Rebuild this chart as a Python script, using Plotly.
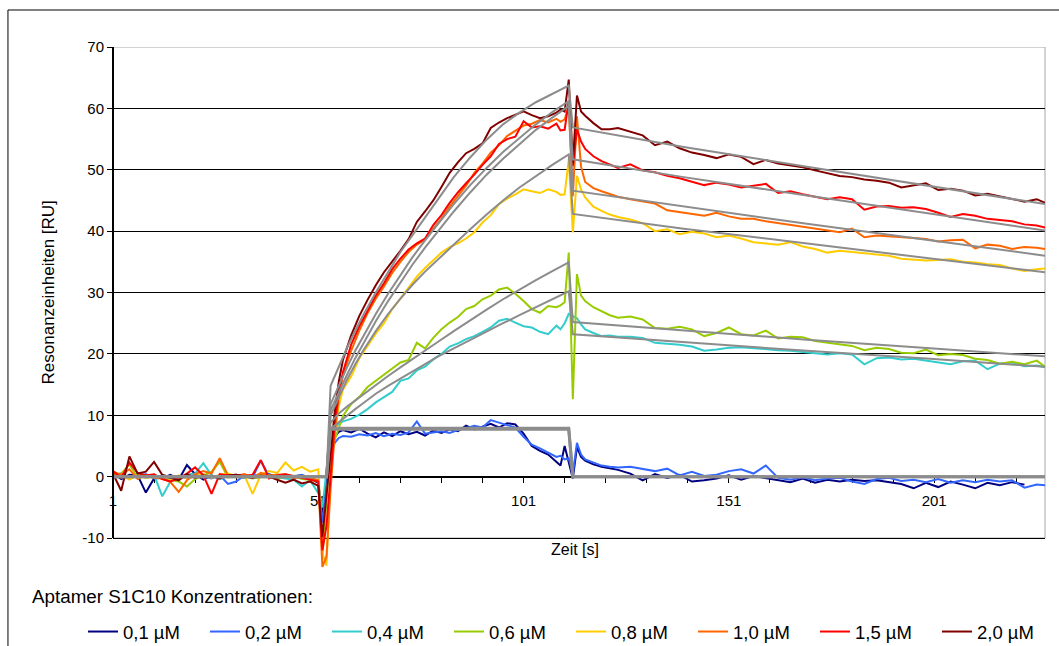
import plotly.graph_objects as go

# ---------------- time grid (s) shared by the measured curves ----------------
T = [1, 3, 5, 7, 9, 11, 13, 15, 17, 19, 21, 23, 25, 27, 29, 31, 33, 35, 37, 39, 41, 43, 45, 47, 49, 51,
     52, 53, 54, 55, 56, 57,
     59, 61, 63, 65, 67, 69, 71, 73, 75, 77, 79, 81, 83, 85, 87, 89, 91, 93, 95, 97, 99, 101, 103, 105, 107, 109,
     110, 111, 112, 113, 114, 115, 116,
     118, 120, 122, 124,
     127, 130, 133, 136, 139, 142, 145, 148, 151, 154, 157, 160, 163, 166, 169, 172, 175, 178, 181, 184, 187,
     190, 193, 196, 199, 202, 205, 208, 211, 214, 217, 220, 223, 226, 228]

C01 = [0.6, -0.4, 0.3, 0.2, -2.6, -0.3, -0.2, 0.3, -0.5, 1.9, 0.4, -0.5, 0.2, -0.3, 0.1, 0.2, -0.2, 0.2, 0.1, 0.4, 0.0, -0.2, 0.1, 0.2, -0.3, -1.0,
       -6.5, -1.0, 4.5, 6.5, 7.3, 7.6,
       7.2, 7.8, 7.0, 6.4, 7.2, 6.6, 7.4, 6.9, 7.3, 6.7, 7.5, 7.1, 7.7, 7.4, 8.3, 7.7, 8.2, 8.6, 8.0, 8.7, 8.5, 7.0, 5.0, 4.2, 3.6, 2.3,
       1.8, 5.0, 2.2, -0.3, 4.8, 3.2, 2.6,
       2.0, 1.6, 1.3, 1.1,
       0.5, -0.6, 0.4, -0.2, 0.3, -0.8, -0.6, -0.3, 0.2, -0.5, 0.1, -0.2, -0.5, -0.9, -0.3, -1.0, -0.5, -0.8, -0.5, -0.7,
       -0.6, -0.9, -1.2, -1.9, -1.0, -1.7, -0.8, -1.3, -1.9, -1.0, -1.4, -0.9, -1.3, None, None]

C02 = [0.3, 0.5, -0.2, 0.1, 0.4, -0.3, 0.2, -0.4, 0.1, -0.2, 0.3, 0.1, -0.3, 0.2, -1.2, -0.8, 0.2, -0.1, 2.6, 0.1, -0.2, 0.2, 0.0, 0.3, -0.2, -0.8,
       -7.5, -2.0, 3.5, 5.5, 6.3, 6.6,
       6.5, 6.9, 6.7, 7.1, 6.6, 7.0, 6.8, 7.2, 9.0, 7.0, 7.2, 7.4, 7.1, 7.6, 7.9, 8.3, 8.0, 9.2, 8.8, 8.4, 8.0, 6.5, 5.2, 4.6, 3.9, 3.2,
       3.4, 2.8, 3.0, 0.5, 5.5, 3.6, 2.8,
       2.3, 1.8, 1.6, 1.5,
       1.6, 1.2, 0.9, 1.3, 0.2, 0.8, 0.1, 0.3, 0.9, 1.2, 0.5, 1.8, -0.2, -0.5, -0.1, -0.6, -0.3, -0.2, -0.8, -1.2,
       -0.4, -0.2, -0.7, -0.5, -0.9, -0.4, -1.0, -0.6, -0.9, -0.5, -0.8, -0.6, -1.8, -1.3, -1.4]

C04 = [0.2, 0.4, -0.3, 0.5, -0.2, 0.3, -3.2, -0.8, -0.2, 0.3, 0.5, 2.2, 0.2, -0.4, 0.1, 0.3, -0.2, 0.1, 0.0, 0.2, -0.1, -0.3, -0.5, -1.6, -0.6, -2.7,
       -5.0, 1.0, 6.0, 8.0, 8.6, 9.0,
       9.4, 10.1, 11.0, 12.1, 12.9, 13.8, 15.6, 16.0, 17.3, 17.9, 19.1, 20.0, 21.2, 21.7, 22.4, 22.9, 23.6, 24.3, 25.4, 25.7, 25.1, 24.5, 24.3, 23.6, 23.2, 24.6,
       24.0, 25.0, 26.5, 26.2, 25.8, 24.8, 24.0,
       23.4, 22.9, 23.0, 22.8,
       22.8, 22.6, 21.8, 21.7, 21.5, 21.2, 20.5, 20.7, 21.0, 21.1, 20.9, 20.8, 20.6, 20.5, 20.3, 20.0, 19.9, 20.1, 19.9, 18.3,
       19.3, 19.4, 19.1, 19.2, 18.9, 18.6, 18.3, 18.8, 18.9, 17.5, 18.4, 18.6, 18.0, 18.1, 17.8]

C06 = [0.3, 0.5, 2.0, -0.2, 0.1, 0.3, -0.3, -0.5, -0.8, -1.6, -0.4, 0.2, 0.8, 2.4, -0.1, 0.2, 0.1, -0.3, 0.0, 0.2, -0.2, -0.1, 0.1, -0.4, -0.5, -0.8,
       -13.0, -4.0, 4.5, 6.0, 8.0, 9.9,
       11.8, 13.0, 14.6, 15.6, 16.5, 17.5, 18.6, 19.0, 21.8, 20.9, 22.6, 24.0, 25.1, 26.0, 27.3, 27.8, 28.9, 29.5, 30.5, 30.8, 29.8, 28.6, 27.3, 26.7, 27.8, 27.6,
       27.9, 28.4, 36.5, 12.6, 33.0, 29.5, 28.6,
       27.6, 26.9, 26.3, 25.9,
       26.1, 25.6, 24.2, 24.1, 24.4, 24.0, 22.9, 23.4, 24.3, 23.2, 23.0, 23.8, 22.5, 22.8, 22.7, 22.1, 21.8, 21.6, 21.3, 20.6,
       21.0, 20.8, 20.2, 20.1, 20.7, 19.8, 20.0, 19.8, 19.2, 19.0, 18.4, 18.7, 18.3, 18.9, 17.9]

C08 = [0.4, 0.2, -0.5, 0.3, -0.2, 0.1, -0.4, -0.6, 0.2, -0.3, 0.1, 0.4, -0.2, 0.3, 0.5, 0.1, 0.2, -2.8, 0.3, 0.9, 0.6, 2.3, 1.0, 1.6, 0.8, 1.2,
       -12.5, -14.5, 1.0, 7.0, 11.5, 14.2,
       16.3, 19.3, 21.3, 23.3, 25.0, 27.3, 29.0, 30.8, 32.6, 34.0, 35.3, 36.5, 37.4, 38.0, 38.8, 39.8, 41.4, 42.6, 44.4, 45.3, 46.0, 46.8, 46.5, 46.2, 46.8, 46.4,
       45.9, 46.0, 51.7, 39.8, 49.0, 46.8, 45.5,
       44.0, 43.3, 42.7, 42.3,
       41.9, 41.3, 40.0, 40.3, 39.5, 39.9, 39.6, 39.0, 39.3, 38.8, 38.2, 38.0, 37.8, 38.2, 37.5, 37.1, 36.5, 36.8, 36.6, 36.3,
       36.1, 36.0, 35.5, 35.3, 35.2, 35.3, 35.4, 35.0, 34.9, 34.6, 34.5, 33.9, 33.5, 33.8, 33.9]

C10 = [0.8, 0.3, 1.2, -0.4, 0.3, -0.2, -0.3, -0.9, -2.5, -0.6, 0.4, 0.9, 0.5, 3.0, 0.2, 0.1, 0.4, -0.2, 0.6, 0.2, 0.3, 0.4, -0.3, 0.0, -0.2, -0.6,
       -14.7, -13.0, -2.0, 7.0, 13.0, 16.5,
       20.5, 23.8, 26.6, 29.0, 31.0, 33.2, 35.0, 36.6, 37.8, 38.6, 40.4, 42.0, 44.0, 45.8, 47.4, 49.5, 51.0, 52.8, 54.0, 55.5, 56.3, 57.2, 57.5, 58.1, 57.7, 58.3,
       57.8, 58.2, 60.4, 45.7, 58.7, 50.5, 48.0,
       47.0, 46.5, 46.1, 45.6,
       45.2, 44.8, 44.5, 43.4, 43.1, 42.8, 42.5, 43.0, 42.4, 42.0, 42.0, 41.6, 41.3, 41.0, 40.8, 40.5, 40.2, 39.8, 40.4, 39.0,
       39.3, 39.2, 39.0, 38.9, 38.7, 38.3, 38.5, 38.6, 37.2, 37.8, 37.6, 37.1, 37.4, 37.3, 37.1]

C15 = [0.9, -0.2, 2.3, 0.6, 0.2, 0.4, -0.4, -0.8, -0.3, 0.5, 1.5, 0.2, -2.8, 0.4, 0.2, 0.3, 0.1, 0.3, 2.7, -0.3, 0.2, 0.4, 0.1, -0.2, -0.4, -0.8,
       -12.0, -8.0, 0.0, 8.8, 13.5, 17.0,
       21.5, 24.5, 27.0, 29.5, 31.5, 33.8, 35.5, 37.0, 38.0, 38.8, 41.0, 42.6, 44.6, 46.3, 47.8, 49.2, 50.8, 52.2, 54.2, 55.0, 55.4, 57.9, 56.9, 57.1, 56.7, 57.5,
       56.4, 56.5, 61.2, 50.6, 56.6, 54.6, 53.4,
       52.2, 51.4, 50.8, 50.3,
       50.9, 49.9, 49.6, 49.0, 48.6, 48.1, 47.5, 47.9, 47.6, 47.1, 47.4, 47.7, 46.2, 46.5, 46.0, 45.6, 45.2, 45.5, 45.2, 43.5,
       44.0, 44.1, 43.8, 43.9, 43.6, 43.0, 42.3, 42.8, 42.5, 42.0, 41.8, 41.6, 41.1, 40.9, 40.6]

C20 = [0.5, -2.3, 3.3, 0.5, 0.8, 2.4, 0.3, -0.2, -0.6, 0.4, -0.2, 0.2, 0.1, -0.3, 0.2, 0.3, 0.1, -0.2, 0.2, 0.0, -0.5, -1.0, -0.5, -1.1, -0.8, -1.5,
       -9.8, -3.0, 4.0, 10.5, 15.5, 19.0,
       23.0, 26.2, 28.8, 31.2, 33.3, 35.0, 36.8, 38.7, 41.5, 43.2, 45.0, 47.2, 49.5, 51.2, 52.7, 53.4, 54.3, 56.8, 57.7, 58.4, 59.0, 59.5, 58.9, 58.4, 58.7, 59.3,
       59.8, 59.5, 64.7, 51.0, 62.1, 59.5, 58.8,
       57.6, 56.6, 56.6, 56.8,
       56.2, 55.6, 54.0, 54.6, 53.5, 52.8, 52.4, 51.9, 52.5, 52.1, 50.9, 51.6, 51.0, 50.7, 50.4, 49.9, 49.5, 49.0, 48.8, 48.4,
       48.2, 47.9, 47.1, 47.4, 47.8, 46.7, 46.9, 46.6, 45.8, 46.1, 45.7, 45.2, 44.8, 45.2, 44.6]

# ---------------- fitted curves (grey) ----------------
TF = [1, 53, 54, 56, 58, 60, 62, 65, 68, 71, 74, 77, 80, 84, 88, 92, 96, 100, 104, 108, 112, 113, 140, 170, 200, 228]
F01 = [0, 0, 7.7, 7.7, 7.7, 7.7, 7.7, 7.7, 7.7, 7.7, 7.7, 7.7, 7.7, 7.7, 7.7, 7.7, 7.7, 7.7, 7.7, 7.7, 7.7, 0, 0, 0, 0, 0]
F02 = [0, 0, 7.9, 7.9, 7.9, 7.9, 7.9, 7.9, 7.9, 7.9, 7.9, 7.9, 7.9, 7.9, 7.9, 7.9, 7.9, 7.9, 7.9, 7.9, 7.9, 0, 0, 0, 0, 0]
F04 = [0, 0, 7.8, 8.9, 10.0, 11.0, 12.0, 13.5, 14.8, 16.0, 17.2, 18.4, 19.5, 20.9, 22.3, 23.7, 25.0, 26.3, 27.6, 28.9, 30.2, 23.2, 21.9, 20.5, 19.2, 17.9]
F06 = [0, 0, 8.8, 10.3, 11.4, 12.4, 13.4, 15.0, 16.4, 17.8, 19.2, 20.6, 21.9, 23.7, 25.5, 27.2, 28.9, 30.5, 32.0, 33.5, 34.9, 25.2, 23.8, 22.3, 20.9, 19.6]
F08 = [0, 0, 10.0, 13.0, 15.8, 18.3, 20.6, 23.7, 26.5, 29.0, 31.3, 33.4, 35.3, 37.8, 40.3, 42.7, 45.0, 47.1, 49.0, 50.8, 52.5, 42.8, 40.4, 38.0, 35.6, 33.3]
F10 = [0, 0, 10.8, 13.8, 16.6, 19.3, 21.8, 25.3, 28.6, 31.7, 34.6, 37.3, 39.9, 43.2, 46.3, 49.2, 51.8, 54.2, 56.5, 58.5, 60.4, 46.6, 44.0, 41.2, 38.5, 36.0]
F15 = [0, 0, 11.8, 14.9, 17.8, 20.5, 23.0, 26.5, 29.8, 32.9, 35.8, 38.5, 41.1, 44.4, 47.5, 50.3, 52.9, 55.2, 57.4, 59.4, 61.2, 51.7, 48.8, 45.8, 42.9, 40.1]
F20 = [0, 0, 14.8, 18.0, 21.0, 23.8, 26.4, 30.0, 33.4, 36.6, 39.4, 42.2, 44.9, 48.8, 52.0, 54.9, 57.4, 59.3, 61.0, 62.4, 63.7, 56.9, 53.7, 50.5, 47.4, 44.4]

NAMES = ["0,1 µM", "0,2 µM", "0,4 µM", "0,6 µM", "0,8 µM", "1,0 µM", "1,5 µM", "2,0 µM"]
COLORS = ["#000080", "#3366FF", "#33CCCC", "#99CC00", "#FFCC00", "#FF6600", "#FF0000", "#800000"]
SERIES = [C01, C02, C04, C06, C08, C10, C15, C20]
FITS = [F01, F02, F04, F06, F08, F10, F15, F20]
FIT_WIDTHS = [3, 3, 2, 2, 2, 2, 2, 2]

X_TICKS = [1, 11, 21, 31, 41, 51, 61, 71, 81, 91, 101, 111, 121, 131, 141, 151, 161, 171, 181, 191, 201, 211, 221]
X_LABELS = ["1", "", "", "", "", "51", "", "", "", "", "101", "", "", "", "", "151", "", "", "", "", "201", "", ""]
Y_TICKS = [-10, 0, 10, 20, 30, 40, 50, 60, 70]
Y_LABELS = ["-10", "0", "10", "20", "30", "40", "50", "60", "70"]

FONT = "Liberation Sans, Arial, sans-serif"
YMIN, YMAX = -15.05, 70

fig = go.Figure()
for name, col, vals in zip(NAMES, COLORS, SERIES):
    fig.add_trace(go.Scatter(x=T, y=vals, mode="lines", name=name,
                             line=dict(color=col, width=2), connectgaps=False))
for f, w in zip(FITS, FIT_WIDTHS):
    fig.add_trace(go.Scatter(x=TF, y=f, mode="lines", showlegend=False,
                             line=dict(color="#8C8C8C", width=w), hoverinfo="skip"))

grey = "#A6A6A6"
shapes = [
    # plot-area border (top, right, bottom)
    dict(type="line", xref="paper", yref="y", x0=0, x1=1, y0=70, y1=70, line=dict(color=grey, width=1), layer="between"),
    dict(type="line", xref="paper", yref="y", x0=1, x1=1, y0=-10, y1=70, line=dict(color=grey, width=1), layer="between"),
    dict(type="line", xref="paper", yref="y", x0=0, x1=1, y0=-10, y1=-10, line=dict(color=grey, width=1), layer="between"),
    # value axis line
    dict(type="line", xref="paper", yref="y", x0=0, x1=0, y0=-10, y1=70, line=dict(color="black", width=2), layer="above"),
    # outer chart frame
    dict(type="rect", xref="paper", yref="paper", x0=-0.1127, x1=1.2, y0=1.0709, y1=-0.4,
         line=dict(color="black", width=1), fillcolor="rgba(0,0,0,0)", layer="below"),
]

annotations = [
    dict(text="Resonanzeinheiten [RU]", xref="paper", yref="paper", x=-0.0687, y=0.5297,
         textangle=-90, showarrow=False, font=dict(size=17, family=FONT, color="black"),
         xanchor="center", yanchor="middle"),
    dict(text="Zeit [s]", xref="paper", yref="paper", x=0.4957, y=0.0364, showarrow=False,
         font=dict(size=16, family=FONT, color="black"), xanchor="center", yanchor="middle"),
    dict(text="Aptamer S1C10 Konzentrationen:", xref="paper", yref="paper", x=-0.0891, y=-0.0536,
         showarrow=False, font=dict(size=18.8, family=FONT, color="black"), xanchor="left", yanchor="middle"),
]

fig.update_layout(
    width=1059, height=646,
    margin=dict(l=113, r=14, t=47, b=77, autoexpand=False),
    paper_bgcolor="white", plot_bgcolor="white",
    font=dict(family=FONT, color="black"),
    showlegend=True,
    legend=dict(orientation="h", x=-0.0322, xanchor="left", y=-0.0843, yanchor="top",
                entrywidth=77, entrywidthmode="pixels", font=dict(size=18.5, family=FONT, color="black"),
                bgcolor="rgba(0,0,0,0)", itemwidth=30),
    shapes=shapes,
    annotations=annotations,
    xaxis=dict(range=[1, 228], tickmode="array", tickvals=X_TICKS, ticktext=X_LABELS,
               ticks="outside", ticklen=5, tickcolor="black", tickwidth=1,
               showline=True, linecolor="black", linewidth=1, showgrid=False, zeroline=False,
               anchor="free", position=(0 - YMIN) / (YMAX - YMIN), layer="below traces",
               ticklabelstandoff=5,
               tickfont=dict(size=15, family=FONT, color="black")),
    yaxis=dict(range=[YMIN, YMAX], tickmode="array", tickvals=Y_TICKS, ticktext=Y_LABELS,
               ticks="outside", ticklen=5, tickcolor="black", tickwidth=1,
               showline=False, showgrid=True, gridcolor="black", gridwidth=1, zeroline=False,
               tickfont=dict(size=15, family=FONT, color="black")),
)

fig.write_html("out.html")
